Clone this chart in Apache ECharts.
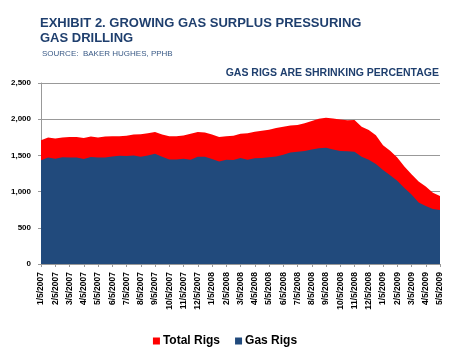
<!DOCTYPE html>
<html><head><meta charset="utf-8">
<script src="https://cdn.jsdelivr.net/npm/echarts@6/dist/echarts.min.js"></script>
<style>html,body{margin:0;padding:0;background:#fff}#c{width:450px;height:360px}</style>
</head><body><div id="c"></div>
<script>
// Semi-monthly observations (5th and 20th of each month), Jan 2007 - May 2009
const categories = [
 "1/5/2007","1/20/2007","2/5/2007","2/20/2007","3/5/2007","3/20/2007","4/5/2007","4/20/2007",
 "5/5/2007","5/20/2007","6/5/2007","6/20/2007","7/5/2007","7/20/2007","8/5/2007","8/20/2007",
 "9/5/2007","9/20/2007","10/5/2007","10/20/2007","11/5/2007","11/20/2007","12/5/2007","12/20/2007",
 "1/5/2008","1/20/2008","2/5/2008","2/20/2008","3/5/2008","3/20/2008","4/5/2008","4/20/2008",
 "5/5/2008","5/20/2008","6/5/2008","6/20/2008","7/5/2008","7/20/2008","8/5/2008","8/20/2008",
 "9/5/2008","9/20/2008","10/5/2008","10/20/2008","11/5/2008","11/20/2008","12/5/2008","12/20/2008",
 "1/5/2009","1/20/2009","2/5/2009","2/20/2009","3/5/2009","3/20/2009","4/5/2009","4/20/2009",
 "5/5/2009"
];
const totalRigs = [
 1709,1746,1735,1746,1755,1755,1740,1760,
 1748,1760,1765,1765,1770,1790,1792,1805,
 1822,1790,1765,1765,1775,1800,1822,1815,
 1790,1755,1765,1770,1800,1805,1825,1842,
 1855,1878,1895,1912,1920,1945,1975,2005,
 2020,2010,1995,1985,1990,1894,1850,1780,
 1640,1565,1470,1345,1240,1140,1070,985,
 940
];
const gasRigs = [
 1433,1470,1455,1475,1470,1470,1450,1478,
 1470,1470,1485,1495,1492,1497,1480,1497,
 1522,1480,1445,1442,1455,1440,1480,1480,
 1450,1415,1440,1435,1465,1440,1460,1465,
 1475,1485,1510,1540,1552,1562,1580,1600,
 1605,1580,1560,1557,1550,1480,1440,1380,
 1300,1225,1150,1050,960,850,800,760,
 745
];
const yTicks = [0,500,1000,1500,2000,2500];

const navy = '#214a7c';
const titleColor = '#1f3f6e';
const chart = echarts.init(document.getElementById('c'), null, {renderer:'canvas'});
chart.setOption({
  animation:false,
  backgroundColor:'#fff',
  title:[
    {text:'EXHIBIT 2. GROWING GAS SURPLUS PRESSURING\nGAS DRILLING', left:35, top:11,
     textStyle:{fontFamily:'Liberation Sans',fontWeight:'bold',fontSize:13,color:titleColor,lineHeight:15}},
    {text:'SOURCE:  BAKER HUGHES, PPHB', left:37, top:45,
     textStyle:{fontFamily:'Liberation Sans',fontWeight:'normal',fontSize:8,color:'#3a5a86'}},
    {text:'GAS RIGS ARE SHRINKING PERCENTAGE', right:6, top:63,
     textStyle:{fontFamily:'Liberation Sans',fontWeight:'bold',fontSize:10.5,color:titleColor}}
  ],
  legend:{
    data:['Total Rigs','Gas Rigs'], left:'center', top:330,
    itemWidth:7, itemHeight:7, itemGap:15, icon:'rect',
    textStyle:{fontFamily:'Liberation Sans',fontWeight:'bold',fontSize:12,color:'#000',padding:[0,0,0,-2]}
  },
  grid:{left:41,right:10,top:83,bottom:96,containLabel:false},
  xAxis:{
    type:'category', data:categories, boundaryGap:false,
    axisLine:{lineStyle:{color:'#999',width:1}},
    axisTick:{show:true,interval:1,length:3,lineStyle:{color:'#999'}},
    axisLabel:{interval:1,rotate:90,fontFamily:'Liberation Sans',fontWeight:'bold',fontSize:8.5,color:'#000',margin:8}
  },
  yAxis:{
    type:'value', min:yTicks[0], max:yTicks[yTicks.length-1], interval:500,
    axisLine:{show:true,lineStyle:{color:'#999',width:1}},
    axisTick:{show:true,length:3,lineStyle:{color:'#999'}},
    splitLine:{lineStyle:{color:'#999',width:1}},
    axisLabel:{fontFamily:'Liberation Sans',fontWeight:'bold',fontSize:8,color:'#000',margin:10,
      formatter:v=>v.toLocaleString('en-US')}
  },
  series:[
    {name:'Total Rigs',type:'line',data:totalRigs,symbol:'none',smooth:false,
     lineStyle:{width:0,color:'#ff0000'},itemStyle:{color:'#ff0000'},areaStyle:{color:'#ff0000',opacity:1}},
    {name:'Gas Rigs',type:'line',data:gasRigs,symbol:'none',smooth:false,
     lineStyle:{width:0,color:navy},itemStyle:{color:navy},areaStyle:{color:navy,opacity:1}}
  ]
});
</script></body></html>
